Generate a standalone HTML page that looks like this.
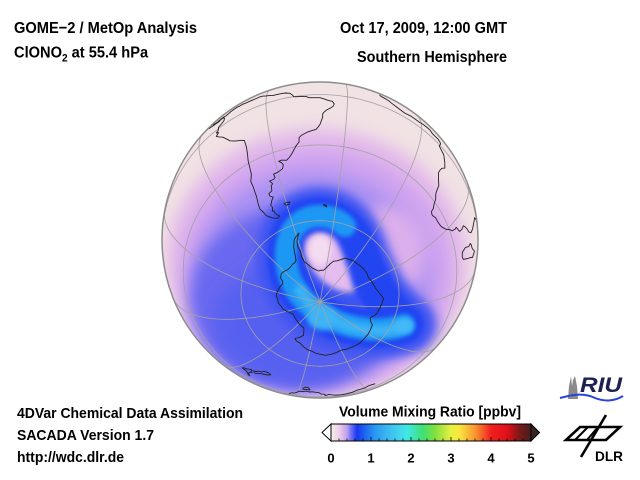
<!DOCTYPE html>
<html><head><meta charset="utf-8"><style>
html,body{margin:0;padding:0;background:#fff;width:640px;height:480px;overflow:hidden}
svg{display:block}
text{font-family:"Liberation Sans",Arial,sans-serif;font-weight:bold;fill:#000}
</style></head><body>
<svg id="s" width="640" height="480" viewBox="0 0 640 480" xmlns="http://www.w3.org/2000/svg">
<defs>
<clipPath id="g"><circle cx="320" cy="240" r="158"/></clipPath>
<filter id="b8" x="-40%" y="-40%" width="180%" height="180%"><feGaussianBlur stdDeviation="8"/></filter>
<filter id="b5" x="-40%" y="-40%" width="180%" height="180%"><feGaussianBlur stdDeviation="5"/></filter>
<filter id="b3" x="-40%" y="-40%" width="180%" height="180%"><feGaussianBlur stdDeviation="3"/></filter>
<filter id="b2" x="-40%" y="-40%" width="180%" height="180%"><feGaussianBlur stdDeviation="2"/></filter>
<linearGradient id="cb" x1="0" x2="1" y1="0" y2="0">
<stop offset="0" stop-color="#f6eeee"/>
<stop offset="0.04" stop-color="#ecd0e8"/>
<stop offset="0.08" stop-color="#c0a0f0"/>
<stop offset="0.1" stop-color="#7070f0"/>
<stop offset="0.13" stop-color="#1838f0"/>
<stop offset="0.18" stop-color="#2070f0"/>
<stop offset="0.22" stop-color="#2898f0"/>
<stop offset="0.3" stop-color="#40c0f0"/>
<stop offset="0.38" stop-color="#40e8e8"/>
<stop offset="0.46" stop-color="#40e070"/>
<stop offset="0.52" stop-color="#80e040"/>
<stop offset="0.6" stop-color="#e8f040"/>
<stop offset="0.64" stop-color="#f8e840"/>
<stop offset="0.72" stop-color="#f89830"/>
<stop offset="0.8" stop-color="#f02020"/>
<stop offset="0.88" stop-color="#e01018"/>
<stop offset="0.94" stop-color="#801818"/>
<stop offset="1" stop-color="#402020"/>
</linearGradient>
</defs>

<g clip-path="url(#g)">
 <rect x="150" y="70" width="340" height="340" fill="#f1e2e4"/>
 <ellipse cx="317" cy="263" rx="150" ry="134" fill="#e2b8ea" filter="url(#b8)"/>
 <ellipse cx="316" cy="270" rx="134" ry="120" fill="#cea2f0" filter="url(#b8)"/>
 <ellipse cx="312" cy="278" rx="118" ry="106" fill="#a890f2" filter="url(#b8)"/>
 <ellipse cx="298" cy="298" rx="108" ry="92" fill="#6868f0" filter="url(#b8)"/>
 <ellipse cx="298" cy="322" rx="84" ry="62" fill="#5660f0" filter="url(#b8)"/>
 <ellipse cx="398" cy="326" rx="38" ry="26" fill="#7470f0" filter="url(#b8)"/>
 <ellipse cx="387" cy="252" rx="40" ry="46" fill="#dcaeec" filter="url(#b8)"/>
 <!-- Q structure -->
 <path d="M405 324 C385 332 360 330 338 322 C312 312 296 296 289 275 C282 252 287 228 305 219 C325 210 348 222 358 248 C366 272 378 296 395 314" fill="none" stroke="#3c54f2" stroke-width="58" stroke-linecap="round" filter="url(#b5)"/>
 <path d="M405 324 C385 332 360 330 338 322 C312 312 296 296 289 275 C282 252 287 228 305 219 C325 210 348 222 358 248 C366 272 378 296 395 314" fill="none" stroke="#2444f2" stroke-width="38" stroke-linecap="round" filter="url(#b2)"/>
 <path d="M404 325 C385 332 360 330 338 322 C312 312 296 296 289 275 C282 252 287 228 305 219 C318 213 335 216 345 226" fill="none" stroke="#1e98f4" stroke-width="22" stroke-linecap="round" filter="url(#b2)"/>
 <path d="M300 290 C310 308 330 322 355 328 C375 332 395 332 406 325" fill="none" stroke="#3cb4f6" stroke-width="11" stroke-linecap="round" filter="url(#b3)"/>
 <ellipse cx="322" cy="318" rx="15" ry="12" fill="#3cb4f6" filter="url(#b3)"/>
 <ellipse cx="403" cy="326" rx="10" ry="7" fill="#44b8f6" filter="url(#b2)"/>
 <path d="M306 240 C312 230 330 230 337 242 C344 256 350 275 354 292 C342 294 326 286 316 274 C306 262 302 250 306 240 Z" fill="#e4bcee" filter="url(#b3)"/>
 <ellipse cx="320" cy="250" rx="11" ry="15" fill="#f4dcf0" filter="url(#b3)"/>
 <g id="grid" fill="none" stroke="#a4a0a4" stroke-width="0.8"></g>
 <g id="coast" fill="none" stroke="#222" stroke-width="0.9" stroke-linejoin="round"></g>
</g>
<circle cx="320" cy="240" r="158" fill="none" stroke="#8c8c8c" stroke-width="1.5"/>

<!-- titles -->
<text x="14" y="33" font-size="16" textLength="183" lengthAdjust="spacingAndGlyphs">GOME−2 / MetOp Analysis</text>
<text transform="translate(14,57.5) scale(0.915,1)" font-size="16">ClONO<tspan font-size="11" dy="4">2</tspan><tspan dy="-4"> at 55.4 hPa</tspan></text>
<text x="507" y="33" font-size="16" text-anchor="end" textLength="167" lengthAdjust="spacingAndGlyphs">Oct 17, 2009, 12:00 GMT</text>
<text x="507" y="62" font-size="16" text-anchor="end" textLength="150" lengthAdjust="spacingAndGlyphs">Southern Hemisphere</text>

<text x="17" y="418" font-size="15" textLength="226" lengthAdjust="spacingAndGlyphs">4DVar Chemical Data Assimilation</text>
<text x="17" y="440" font-size="15" textLength="137" lengthAdjust="spacingAndGlyphs">SACADA Version 1.7</text>
<text x="17" y="462" font-size="15" textLength="107" lengthAdjust="spacingAndGlyphs">http://wdc.dlr.de</text>

<!-- colorbar -->
<text x="339" y="416.5" font-size="15" textLength="182" lengthAdjust="spacingAndGlyphs">Volume Mixing Ratio [ppbv]</text>
<polygon points="331,424 322,432.5 331,441" fill="#fff" stroke="#000" stroke-width="1"/>
<polygon points="531,424 539.5,432.5 531,441" fill="#3a2222" stroke="#000" stroke-width="1"/>
<rect x="331" y="424" width="200" height="17" fill="url(#cb)" stroke="#000" stroke-width="1"/>
<g id="ticks" stroke="#000" stroke-width="0.8"></g>
<g font-size="13" text-anchor="middle">
<text x="331" y="462.5">0</text><text x="371" y="462.5">1</text><text x="411" y="462.5">2</text>
<text x="451" y="462.5">3</text><text x="491" y="462.5">4</text><text x="531" y="462.5">5</text>
</g>

<!-- RIU logo -->
<path d="M568 399 L569 386 L571 376 L572 386 L573 380 L575 376 L577 386 L578 399 Z" fill="#8a8a8a"/>
<path d="M560 398 C575 394 585 393 595 398 C605 402 615 401 623 396" fill="none" stroke="#2844d8" stroke-width="2"/>
<text x="580" y="392" font-size="21" font-style="italic" textLength="42" lengthAdjust="spacingAndGlyphs" style="fill:#1c2250">RIU</text>

<!-- DLR logo -->
<polygon points="566,440 580,427 620,427 606,440" fill="none" stroke="#000" stroke-width="2.6" stroke-linejoin="miter"/>
<line x1="581" y1="457" x2="606" y2="415" stroke="#000" stroke-width="2.6"/>
<line x1="587" y1="440" x2="598" y2="427" stroke="#000" stroke-width="2"/>
<line x1="575" y1="440" x2="588" y2="427" stroke="#000" stroke-width="2"/>
<text x="595" y="461" font-size="14" textLength="28" lengthAdjust="spacingAndGlyphs">DLR</text>
</svg>
<script>
(function(){
var NS="http://www.w3.org/2000/svg";
var D=Math.PI/180,R=158,CX=320,CY=240,P0=-67*D,L0=-40*D;
function pr(lon,lat){var p=lat*D,dl=lon*D-L0;
 var c=Math.sin(P0)*Math.sin(p)+Math.cos(P0)*Math.cos(p)*Math.cos(dl);
 return [CX+R*Math.cos(p)*Math.sin(dl),CY-R*(Math.cos(P0)*Math.sin(p)-Math.sin(P0)*Math.cos(p)*Math.cos(dl)),c>=0];}
function line(pts){var d='',pen=false;for(var i=0;i<pts.length;i++){var q=pr(pts[i][0],pts[i][1]);
 if(q[2]){d+=(pen?'L':'M')+q[0].toFixed(1)+' '+q[1].toFixed(1);pen=true;}else pen=false;}return d;}
function add(gid,d){var e=document.createElementNS(NS,'path');e.setAttribute('d',d);document.getElementById(gid).appendChild(e);}
var lon,lat,pts;
for(lon=-180;lon<180;lon+=30){pts=[];for(lat=-90;lat<=90;lat+=2)pts.push([lon,lat]);add('grid',line(pts));}
[0,-30,-60].forEach(function(la){pts=[];for(lon=-180;lon<=180;lon+=2)pts.push([lon,la]);add('grid',line(pts));});
var sa=[[-95,16],[-93,15.5],[-91,14],[-89,13.5],[-87.5,13],[-86,12],[-85.5,10.5],[-83.5,9],[-82,8.3],[-80.5,7.5],[-79,9],[-78,8],[-77.5,7],[-77.5,4],[-78.5,2.5],[-80,1],[-80,-1],[-81,-2.5],[-80,-3.5],[-81.2,-5],[-80,-7],[-78.5,-9],[-77,-12],[-76,-14],[-74,-16],[-71.5,-17.5],[-70.3,-18.5],[-70.2,-22],[-70.5,-25],[-71.3,-29],[-71.6,-32],[-72,-35],[-73.5,-37.5],[-73.5,-40],[-73.8,-42],[-74,-44],[-75,-47],[-75.5,-49],[-74.5,-51],[-74,-52.5],[-72,-54],[-70,-55],[-68,-55.5],[-66.5,-55],[-68.5,-53.5],[-68.4,-52.4],[-69.5,-52.2],[-68.5,-51],[-69,-50],[-67.5,-48.5],[-66,-47.5],[-67.5,-46.5],[-67.5,-45.5],[-65.5,-45],[-65,-43],[-64,-42.5],[-65,-41],[-63,-41],[-62,-40.5],[-62.2,-39],[-60,-38.8],[-57.5,-38],[-56.8,-36.5],[-57.3,-35.5],[-58.5,-34.5],[-57,-34.4],[-55,-35],[-53.5,-34],[-52.5,-33],[-51,-31],[-50,-29.5],[-48.6,-28],[-48.5,-26],[-47.5,-25],[-45,-23.7],[-43,-23],[-41.5,-22.5],[-40.8,-21.5],[-40,-20],[-39.5,-18],[-39,-16],[-39,-14],[-38.5,-13],[-37.5,-11.5],[-36,-10],[-35,-8.5],[-34.8,-7],[-35.5,-5.3],[-37,-4.8],[-38.5,-3.7],[-40,-2.8],[-42,-2.7],[-44,-2.5],[-45,-1.3],[-47.5,-0.7],[-49.5,-0.2],[-50,1.5],[-51,4],[-52.5,5.2],[-54,5.8],[-56,5.9],[-57.5,6],[-59,7.5],[-60.5,8.5],[-61.5,9.8],[-63,10.6],[-65,10.1],[-67,10.6],[-68.5,10.5],[-70,11.5],[-71.5,11],[-72,11.7],[-73,11.3],[-75,10.7],[-76,9.4],[-77,8.6],[-78,9.3],[-79.5,9.6],[-81,8.8],[-82.5,9.5],[-83.5,10.8],[-83.5,13],[-83.3,15],[-85,16],[-88,16]];
var af=[[-17,15],[-17,13],[-16.5,12],[-15,11],[-13.5,9.5],[-13,8.5],[-11.5,7],[-9,5],[-7.5,4.4],[-5,5.1],[-3,5.1],[-1,5],[1,6],[3,6.3],[4.5,6.2],[5.5,4.5],[7,4.4],[8.5,4.5],[9.5,3.5],[9.8,2],[9.3,0],[9,-1],[10,-2.5],[11.5,-4],[12,-5],[12.3,-6.5],[13,-8.5],[13.3,-10],[13.8,-11.5],[12.5,-13.5],[12,-15.5],[11.8,-17.5],[12.5,-19],[13.5,-21],[14.5,-22.5],[14.8,-25],[15.3,-27],[16.5,-28.6],[17.3,-31],[18.2,-32.5],[18.4,-34],[19,-34.5],[20,-34.8],[22,-34],[24,-34],[25.7,-33.8],[27,-33.5],[28.5,-32.5],[30,-31.3],[31,-29.8],[32.4,-28.5],[32.8,-26.5],[32.6,-25.5],[33.5,-25],[35.3,-24],[35.5,-22],[35,-20],[36,-19],[37.5,-17.7],[39.5,-16.5],[40.7,-14.5],[40.5,-12],[40,-10],[39.5,-8],[39.3,-6.5],[39,-5],[40,-3.5],[41,-2],[42,-1],[43.5,0.5],[45,1.8],[46.5,3],[48,4.5],[49,6.5],[50,9],[51,10.5],[51.3,11.8]];
var mg=[[49.3,-12],[50.2,-14.5],[50.5,-15.5],[49.7,-17],[49.4,-18],[48.8,-20],[47.8,-23],[47.1,-24.9],[45.5,-25.5],[44,-25],[43.3,-22],[43.8,-20.5],[44.4,-19],[44,-17],[45,-16],[46.5,-15.5],[47.5,-14.5],[48.2,-13.5],[49.3,-12]];
var ant=[[-57,-63.3],[-59,-63.9],[-61,-64.5],[-63,-65.2],[-64.5,-66.5],[-66,-67.8],[-67,-69],[-68,-70.5],[-70,-72.3],[-73,-72.8],[-76,-72.8],[-80,-73.2],[-85,-73.3],[-90,-72.8],[-95,-72.5],[-100,-73.3],[-102,-74.5],[-106,-75],[-110,-74.5],[-115,-74.3],[-120,-74],[-125,-73.8],[-130,-74.5],[-135,-74.6],[-140,-75.5],[-145,-76],[-150,-77],[-155,-78.2],[-158,-78.8],[-165,-78.6],[-175,-78.3],[180,-78],[175,-77.8],[168,-77.5],[165,-76],[163,-74.5],[166,-73],[170,-71.5],[167,-70.8],[162,-70.5],[158,-69.5],[153,-68.5],[148,-68],[143,-67],[140,-66.7],[135,-66],[130,-66.2],[125,-66.5],[120,-67],[115,-66.5],[110,-66.3],[105,-66],[100,-66],[95,-66.3],[90,-66.5],[85,-67],[80,-67.5],[77,-69],[73,-69.8],[70,-68.5],[67,-67.8],[62,-67.3],[57,-66.8],[52,-66.2],[48,-67.3],[45,-68],[40,-69],[35,-69.5],[30,-69.8],[25,-70.3],[20,-70],[15,-70],[10,-70.2],[5,-70.5],[0,-70.5],[-5,-71],[-10,-71.3],[-14,-72.5],[-18,-73.5],[-22,-74],[-26,-75.5],[-30,-77],[-34,-78],[-38,-78],[-42,-78.3],[-47,-77.8],[-52,-77],[-57,-75.5],[-61,-74],[-62,-72],[-61,-70],[-62,-68],[-61,-66],[-59,-64.5],[-57,-63.3]];
var nzs=[[166.5,-46],[168.3,-46.6],[169.5,-46.5],[170.7,-45.8],[171.2,-44.5],[172.7,-43.7],[173.1,-42.5],[174.2,-41.7],[173.5,-40.9],[172.7,-40.5],[172.1,-41.3],[171.4,-41.9],[170.8,-42.8],[169,-43.8],[167.5,-44.8],[166.5,-46]];
var nzn=[[172.7,-34.4],[174.2,-35.5],[174.8,-36.8],[175.8,-37],[176.3,-37.7],[178,-37.6],[178.5,-38],[177.9,-39.2],[177,-39.3],[176.8,-40],[176,-41],[175.2,-41.6],[174.8,-41.3],[174.6,-39.8],[173.8,-39.3],[174.6,-38.8],[174.5,-37.2],[173.5,-35.7],[172.7,-34.4]];
var tas=[[144.7,-40.7],[146.5,-41.1],[148.3,-40.9],[148.3,-42],[147.8,-43.2],[146.8,-43.6],[146,-43.5],[145.2,-42.2],[144.7,-40.7]];
var aus=[[115,-34.3],[117.9,-35.1],[120,-33.9],[123.5,-33.9],[126,-32.3],[129,-31.7],[131.2,-31.5],[133.5,-32.2],[135,-33.7],[135.9,-34.8],[137.8,-32.8],[137.8,-35.5],[139.5,-35.8],[140.5,-38],[142,-38.4],[143.5,-38.8],[145,-38.2],[146.3,-39.1],[147.8,-37.9],[149.9,-37.5],[150.1,-36],[151,-34],[152.5,-32.5],[153.2,-30]];
var fk=[[-61.3,-51.3],[-59.5,-51.3],[-57.8,-51.5],[-58.7,-52.2],[-60.5,-52.2],[-61.3,-51.3]];
var sg=[[-38,-54],[-36,-54.2],[-35.8,-54.8],[-37.5,-54.3],[-38,-54]];
[sa,af,mg,ant,nzs,nzn,tas,aus,fk,sg].forEach(function(a){add('coast',line(a));});
var t=document.getElementById('ticks');
for(var k=1;k<25;k++){var x=331+8*k;var l=document.createElementNS(NS,'line');
 l.setAttribute('x1',x);l.setAttribute('x2',x);l.setAttribute('y1',441);l.setAttribute('y2',(k%5==0)?437:438.5);t.appendChild(l);}
})();
</script>
</body></html>
